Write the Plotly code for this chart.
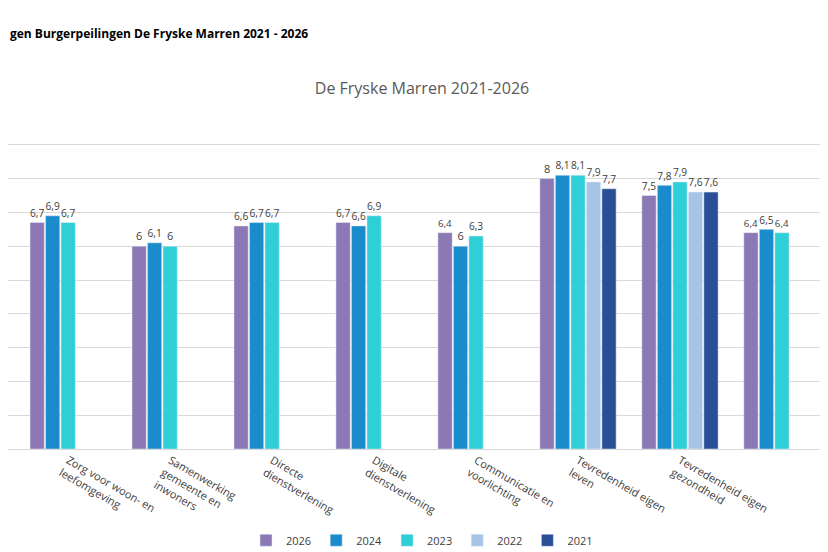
import plotly.graph_objects as go

categories = [
    "Zorg voor woon- en<br>leefomgeving",
    "Samenwerking<br>gemeente en<br>inwoners",
    "Directe<br>dienstverlening",
    "Digitale<br>dienstverlening",
    "Communicatie en<br>voorlichting",
    "Tevredenheid eigen<br>leven",
    "Tevredenheid eigen<br>gezondheid",
    "Meedoen inwoners<br>in de maatschappij",
]
years = ["2026", "2024", "2023", "2022", "2021"]
values = {
    "2026": [6.7, 6.0, 6.6, 6.7, 6.4, 8.0, 7.5, 6.4],
    "2024": [6.9, 6.1, 6.7, 6.6, 6.0, 8.1, 7.8, 6.5],
    "2023": [6.7, 6.0, 6.7, 6.9, 6.3, 8.1, 7.9, 6.4],
    "2022": [None, None, None, None, None, 7.9, 7.6, None],
    "2021": [None, None, None, None, None, 7.7, 7.6, None],
}
colors = {
    "2026": "#8b78b5",
    "2024": "#1a8ccc",
    "2023": "#2ecfd6",
    "2022": "#a6c4e6",
    "2021": "#2b4f96",
}


def fmt(v):
    if v is None:
        return ""
    return ("%g" % v).replace(".", ",")


x = list(range(len(categories)))
fig = go.Figure()
for yr in years:
    fig.add_trace(go.Bar(
        x=x, y=values[yr], name=yr, marker_color=colors[yr],
        text=[fmt(v) for v in values[yr]], textposition="outside",
        textfont=dict(size=11, color="#404040"), cliponaxis=False,
    ))

fig.update_layout(
    width=828, height=552,
    margin=dict(l=0, r=0, t=103, b=111),
    paper_bgcolor="white", plot_bgcolor="white",
    font=dict(family="Open Sans", size=11, color="#404040"),
    barmode="group", bargap=0.24, bargroupgap=0.08,
    title=dict(text="De Fryske Marren 2021-2026", x=0.5, y=0.865,
               xanchor="center", font=dict(size=16, color="#595959")),
    legend=dict(orientation="h", x=0.5, xanchor="center", y=-0.27,
                yanchor="middle", font=dict(size=11), traceorder="normal"),
    showlegend=True,
)
fig.update_xaxes(range=[-0.59, 7.53], tickvals=x, ticktext=categories,
                 showline=True, linecolor="#d9d9d9", ticks="",
                 tickfont=dict(size=11))
fig.update_yaxes(range=[0, 10], dtick=1, showticklabels=False,
                 gridcolor="#d9d9d9", zeroline=False)

fig.add_annotation(text="<b>gen Burgerpeilingen De Fryske Marren 2021 - 2026</b>",
                   xref="paper", yref="paper", x=0, y=1, yshift=78,
                   xanchor="left", yanchor="middle", showarrow=False,
                   font=dict(size=12, color="black"))
fig.add_shape(type="line", xref="paper", x0=0, x1=1, yref="y",
              y0=10.0 + 51 / 33.8, y1=10.0 + 51 / 33.8,
              line=dict(color="#7fb2e0", width=1))
fig.add_shape(type="line", xref="paper", x0=0, x1=1, yref="y",
              y0=-89 / 33.8, y1=-89 / 33.8,
              line=dict(color="#7fb2e0", width=1))

fig.write_html("out.html")
